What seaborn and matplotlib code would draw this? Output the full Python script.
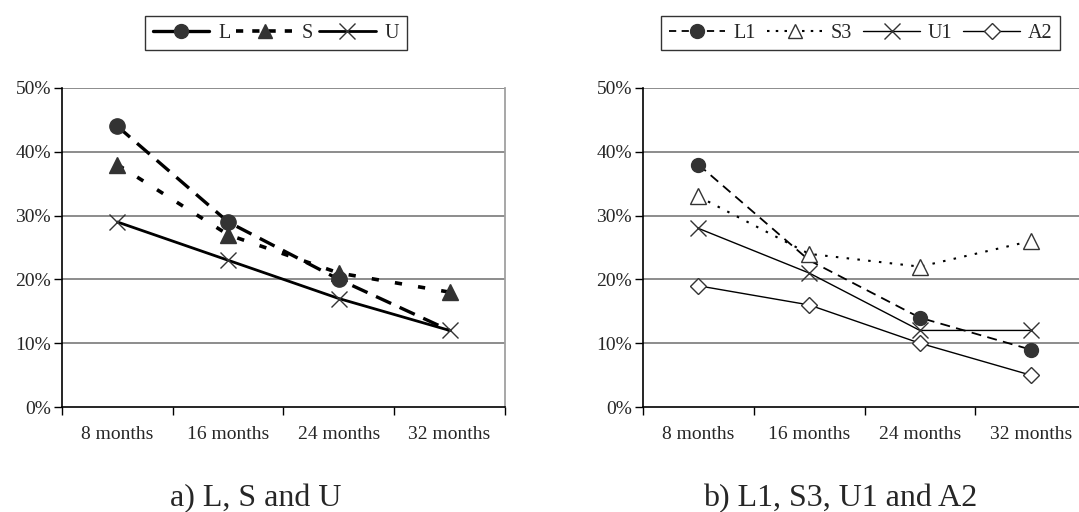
import numpy as np
import pandas as pd
import matplotlib
matplotlib.use("Agg")
import matplotlib.pyplot as plt
import seaborn as sns
from matplotlib.lines import Line2D

categories = ["8 months", "16 months", "24 months", "32 months"]
yticks = [0, 10, 20, 30, 40, 50]

# panel a
L_vals = [44, 29, 20, 12]
S_vals = [38, 27, 21, 18]
U_vals = [29, 23, 17, 12]
# panel b
L1_vals = [38, 23, 14, 9]
S3_vals = [33, 24, 22, 26]
U1_vals = [28, 21, 12, 12]
A2_vals = [19, 16, 10, 5]

sns.set_theme(style="white")
plt.rcParams['font.family'] = ['Liberation Serif', 'DejaVu Serif']

W, H = 1079, 512
fig = plt.figure(figsize=(W / 100, H / 100), dpi=100)

def px_axes(x0, x1, ytop, ybot):
    return fig.add_axes([x0 / W, (H - ybot) / H, (x1 - x0) / W, (ybot - ytop) / H])

axA = px_axes(62, 505, 88, 407)
axB = px_axes(643, 1086, 88, 407)

xpos = np.arange(len(categories))
FS = 14

def style_axes(ax):
    ax.set_xlim(-0.5, len(categories) - 0.5)
    ax.set_ylim(0, 50)
    ax.set_yticks(yticks)
    ax.set_yticklabels([f"{v}%" for v in yticks], fontsize=FS)
    ax.set_xticks(np.arange(len(categories) + 1) - 0.5, minor=False)
    ax.set_xticklabels([])
    ax.set_xticks(xpos, minor=True)
    ax.set_xticklabels(categories, minor=True, fontsize=FS)
    ax.tick_params(axis='x', which='major', direction='out', length=6, width=1, color='black', bottom=True)
    ax.tick_params(axis='x', which='minor', length=0, pad=14)
    ax.tick_params(axis='y', direction='out', length=6, width=1, color='black', left=True, pad=2)
    for v in yticks[1:]:
        ax.axhline(v, color='#6e6e6e', lw=1.1, zorder=0.5)
    ax.spines['left'].set_color('black')
    ax.spines['bottom'].set_color('black')
    ax.spines['left'].set_linewidth(1.2)
    ax.spines['bottom'].set_linewidth(1.2)
    ax.spines['top'].set_visible(False)
    ax.spines['right'].set_color('#a0a0a0')
    ax.spines['right'].set_linewidth(1.3)
    ax.grid(False)
    ax.set_xlabel("")
    ax.set_ylabel("")

def draw(ax, vals, dashes, lw, marker, ms, mfc, mec, mew, markevery=None):
    sns.lineplot(x=xpos, y=vals, ax=ax, color='black', lw=lw, marker=marker,
                 markersize=ms, markerfacecolor=mfc, markeredgecolor=mec,
                 markeredgewidth=mew, legend=False)
    ln = ax.lines[-1]
    if dashes is None:
        ln.set_linestyle('-')
    else:
        ln.set_dashes(dashes)
    if markevery is not None:
        ln.set_markevery(markevery)
    ln.set_zorder(3)
    return ln

dk = '#333333'
dA_L = (5, 2.8)
dA_S = (2, 4.5)
dB_L = (5.5, 3.5)
dB_S = (1.2, 4)

# panel a
draw(axA, L_vals, dA_L, 2.4, 'o', 11, dk, dk, 1, markevery=[0, 1, 2])
draw(axA, S_vals, dA_S, 2.6, '^', 11, dk, dk, 1)
draw(axA, U_vals, None, 2.0, 'x', 12, 'none', dk, 1.0)
style_axes(axA)

# panel b
draw(axB, L1_vals, dB_L, 1.3, 'o', 10, dk, dk, 1, markevery=[0, 2, 3])
draw(axB, S3_vals, dB_S, 1.5, '^', 11, 'white', dk, 1.0)
draw(axB, U1_vals, None, 1.0, 'x', 12, 'none', dk, 1.0)
draw(axB, A2_vals, None, 1.0, 'D', 8.5, 'white', dk, 1.0)
style_axes(axB)

# legends
LFS = 14.5
hA = [
    Line2D([], [], color='black', lw=2.4, marker='o', ms=10, mfc=dk, mec=dk),
    Line2D([], [], color='black', lw=2.6, ls=(0, (2, 2.5)), marker='^', ms=10, mfc=dk, mec=dk),
    Line2D([], [], color='black', lw=2.0, marker='x', ms=11, mec=dk, mew=1.0),
]
legA = fig.legend(hA, ["L", "S", "U"], loc='upper left', bbox_to_anchor=(145 / W, 1 - 16 / H),
                  ncol=3, frameon=True, fontsize=LFS, handlelength=2.8, handletextpad=0.45,
                  columnspacing=0.3, borderpad=0.38, borderaxespad=0, fancybox=False)
legA.get_frame().set_edgecolor('black')
legA.get_frame().set_linewidth(1.0)

hB = [
    Line2D([], [], color='black', lw=1.3, ls=(0, (4, 3)), marker='o', ms=10, mfc=dk, mec=dk),
    Line2D([], [], color='black', lw=1.5, ls=(0, (1.2, 3)), marker='^', ms=10, mfc='white', mec=dk),
    Line2D([], [], color='black', lw=1.0, marker='x', ms=11, mec=dk, mew=1.0),
    Line2D([], [], color='black', lw=1.0, marker='D', ms=8, mfc='white', mec=dk),
]
legB = fig.legend(hB, ["L1", "S3", "U1", "A2"], loc='upper left', bbox_to_anchor=(661 / W, 1 - 16 / H),
                  ncol=4, frameon=True, fontsize=LFS, handlelength=2.8, handletextpad=0.4,
                  columnspacing=0.55, borderpad=0.38, borderaxespad=0, fancybox=False)
legB.get_frame().set_edgecolor('black')
legB.get_frame().set_linewidth(1.0)

fig.text(256 / W, 1 - 499 / H, "a) L, S and U", ha='center', va='center', fontsize=23,
         family=['Liberation Serif'])
fig.text(840 / W, 1 - 499 / H, "b) L1, S3, U1 and A2", ha='center', va='center', fontsize=23,
         family=['Liberation Serif'])

fig.savefig("out.png", dpi=100)
